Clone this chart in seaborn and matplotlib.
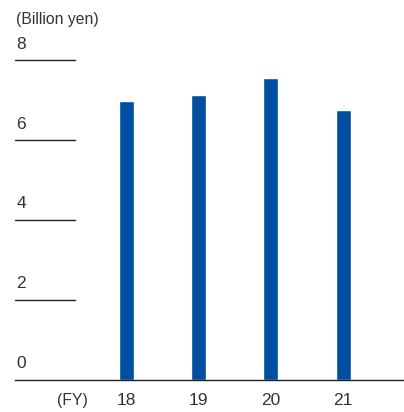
import numpy as np
import pandas as pd
import matplotlib
matplotlib.use('Agg')
import matplotlib.pyplot as plt
import seaborn as sns

years = ['18', '19', '20', '21']
values = [6.97, 7.12, 7.55, 6.75]
y_ticks = [0, 2, 4, 6, 8]

sns.set_style('white')
plt.rcParams['font.family'] = ['Liberation Sans', 'DejaVu Sans']

bar_color = '#004EA2'
text_color = '#333333'

fig = plt.figure(figsize=(4.04, 4.12), dpi=100)
ax = fig.add_axes([15 / 404, (412 - 379.5) / 412, 389 / 404, 319.5 / 412])

df = pd.DataFrame({'year': years, 'value': values})
sns.barplot(data=df, x='year', y='value', color=bar_color, width=0.207,
            saturation=1, ax=ax)

ax.set_xlim(-1.54, 3.84)
ax.set_ylim(0, 8)
ax.set_xlabel('')
ax.set_ylabel('')

for s in ['top', 'right', 'left']:
    ax.spines[s].set_visible(False)
ax.spines['bottom'].set_color('#222222')
ax.spines['bottom'].set_linewidth(1.0)

ax.set_yticks([])
ax.tick_params(axis='x', length=0, pad=10, labelsize=12.5, labelcolor=text_color)

# short guide lines with labels on the left
yax = ax.get_yaxis_transform()
for t in y_ticks:
    if t > 0:
        ax.plot([0.0, 0.154], [t, t], transform=yax, color='#222222',
                lw=1.0, clip_on=False)
    ax.annotate(str(t), xy=(0.003, t), xycoords=yax, xytext=(0, 6),
                textcoords='offset points', ha='left', va='bottom',
                fontsize=12.5, color=text_color)

ax.annotate('(Billion yen)', xy=(0.003, 8), xycoords=yax, xytext=(0, 24),
            textcoords='offset points', ha='left', va='bottom',
            fontsize=11.3, color=text_color)

ax.annotate('(FY)', xy=(-0.74, 0), xycoords='data', xytext=(0, -10),
            textcoords='offset points', ha='center', va='top',
            fontsize=11.3, color=text_color, annotation_clip=False)

fig.savefig('out.png', dpi=100)
